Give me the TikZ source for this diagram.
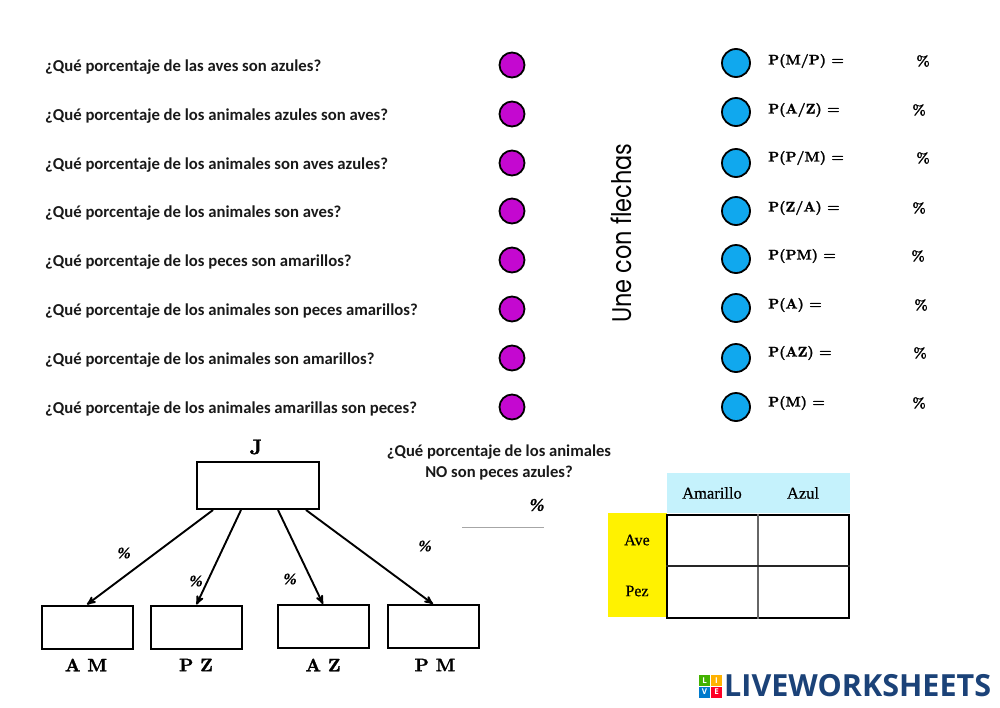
\documentclass[tikz,border=0pt]{standalone}
\usepackage{fontspec}
\setmainfont{Carlito}
\newfontfamily\slabfont[Extension=.otf,FakeBold=1.6]{lmroman10-bold}
\newfontfamily\headfont[FakeBold=0.5]{Liberation Serif}
\newfontfamily\handfont{Poppins}
\newfontfamily\logofont{Open Sans}
\usetikzlibrary{calc,arrows,positioning}
\definecolor{dotmag}{HTML}{C408D0}
\definecolor{dotblue}{HTML}{10A8EE}
\definecolor{headblue}{HTML}{C5F2FC}
\definecolor{logoblue}{HTML}{1B4278}
\tikzset{
  question/.style = {anchor=west, inner sep=0pt, yshift=-2.5pt, font=\fontsize{16.7}{20}\selectfont\bfseries, text=black!90},
  magdot/.style = {circle, draw=black, fill=dotmag, line width=1.8pt, minimum size=25pt, inner sep=0pt},
  bluedot/.style = {circle, draw=black, fill=dotblue, line width=1.8pt, minimum size=28pt, inner sep=0pt},
  formula/.style = {anchor=west, inner sep=0pt, font=\slabfont\fontsize{14}{16}\selectfont},
  pct/.style = {inner sep=0pt, font=\slabfont\fontsize{14}{16}\selectfont},
  treebox/.style = {draw, rectangle, line width=2pt, minimum width=91pt, minimum height=43pt, inner sep=0pt},
  treelabel/.style = {inner sep=0pt, font=\slabfont\fontsize{18}{20}\selectfont},
  treelink/.style = {-stealth', line width=1.9pt},
  slant/.style = {inner sep=0pt, font=\headfont\fontsize{16}{18}\selectfont\bfseries\itshape},
  head/.style = {inner sep=0pt, font=\headfont\fontsize{16.5}{18}\selectfont},
  side/.style = {inner sep=0pt, font=\headfont\fontsize{16}{18}\selectfont},
  livebox/.style = {minimum size=11pt, inner sep=0pt, text=white, font=\logofont\fontsize{8}{8}\selectfont\bfseries}
}
\begin{document}
\begin{tikzpicture}[x=1pt,y=-1pt]
  \useasboundingbox (0,0) rectangle (1000,707);

  % questions and dots
  \foreach \name/\ypos/\txt in {
    1/65/{¿Qué porcentaje de las aves son azules?},
    2/114/{¿Qué porcentaje de los animales azules son aves?},
    3/163/{¿Qué porcentaje de los animales son aves azules?},
    4/211/{¿Qué porcentaje de los animales son aves?},
    5/260/{¿Qué porcentaje de los peces son amarillos?},
    6/309/{¿Qué porcentaje de los animales son peces amarillos?},
    7/358/{¿Qué porcentaje de los animales son amarillos?},
    8/407/{¿Qué porcentaje de los animales amarillas son peces?}} {
    \node[question] (q\name) at (45,\ypos) {\txt};
    \node[magdot] (m\name) at (512,\ypos) {};
  }

  \node[inner sep=0pt, rotate=90, xscale=0.83, font=\handfont\fontsize{27}{30}\selectfont] (une) at (621,233) {Une con flechas};

  % formulas
  \foreach \name/\ydot/\ytxt/\txt/\pctx in {
    1/63/61/{P(M/P) =}/923,
    2/112/110/{P(A/Z) =}/919,
    3/163/158/{P(P/M) =}/923,
    4/211/208/{P(Z/A) =}/919,
    5/259/256/{P(PM) =}/918,
    6/308/305/{P(A) =}/921,
    7/358/353/{P(AZ) =}/920,
    8/407/403/{P(M) =}/919} {
    \node[bluedot] (b\name) at (736,\ydot) {};
    \node[formula] (f\name) at (768,\ytxt) {\txt};
    \node[pct] (p\name) at (\pctx,\ytxt) {\%};
  }

  % tree
  \node[treebox, minimum width=122pt, minimum height=47pt] (J) at (258,485.5) {};
  \node[treelabel, font=\slabfont\fontsize{21}{22}\selectfont] (Jlab) at (256,447) {J};
  \node[treebox] (AM) at (87,627) {};
  \node[treebox] (PZ) at (196.5,627) {};
  \node[treebox] (AZ) at (323,626.5) {};
  \node[treebox] (PM) at (433,626.5) {};
  \node[treelabel] (AMlab) at (86,665) {A M};
  \node[treelabel] (PZlab) at (196,665) {P Z};
  \node[treelabel] (AZlab) at (323,665) {A Z};
  \node[treelabel] (PMlab) at (435,665) {P M};
  \coordinate (j1) at ($(J.south west)+(17,0)$);
  \coordinate (j2) at ($(J.south west)+(45,0)$);
  \coordinate (j3) at ($(J.south west)+(82,0)$);
  \coordinate (j4) at ($(J.south west)+(110,0)$);
  \draw[treelink] (j1) -- (AM.north);
  \draw[treelink] (j2) -- (PZ.north);
  \draw[treelink] (j3) -- (AZ.north);
  \draw[treelink] (j4) -- (PM.north);
  \node[slant] (s1) at (124,553) {\%};
  \node[slant] (s2) at (196,581) {\%};
  \node[slant] (s3) at (290,579) {\%};
  \node[slant] (s4) at (425,546) {\%};

  % question on the right of the tree
  \node[align=center, inner sep=0pt, font=\fontsize{16.6}{21}\selectfont\bfseries, text=black!90] (q9) at (499,462) {¿Qué porcentaje de los animales\\NO son peces azules?};
  \node[slant, font=\headfont\fontsize{18}{18}\selectfont\bfseries\itshape] (s5) at (537,505) {\%};
  \coordinate (u1) at (462,527);
  \coordinate (u2) at (544,527);
  \draw[black!35] (u1) -- (u2);

  % table
  \node[fill=headblue, minimum width=183pt, minimum height=40pt, inner sep=0pt] (top) at (758,493) {};
  \node[fill=yellow, minimum width=59pt, minimum height=104pt, inner sep=0pt] (sidebar) at (637,565) {};
  \node[draw, line width=2pt, minimum width=182pt, minimum height=103pt, inner sep=0pt] (tab) at (758,566) {};
  \draw[black!60, line width=1.3pt] (tab.north) -- (tab.south);
  \draw[black!85, line width=1.3pt] (tab.west) -- (tab.east);
  \node[head] (h1) at (712,493) {Amarillo};
  \node[head] (h2) at (803,493) {Azul};
  \node[side] (h3) at (637,540) {Ave};
  \node[side] (h4) at (637,591) {Pez};

  % logo
  \node[inner sep=0pt, anchor=west, font=\logofont\fontsize{30.5}{32}\selectfont\bfseries, text=logoblue] (logo) at (724,686) {LIVEWORKSHEETS};
  \node[livebox, fill=green!50!lime!70!black] (l1) at (704.5,680.5) {L};
  \node[livebox, fill=orange!60!yellow] (l2) at (716.5,680.5) {I};
  \node[livebox, fill=blue!40!cyan!80!black] (l3) at (704.5,692) {V};
  \node[livebox, fill=red!85!magenta] (l4) at (716.5,692) {E};
\end{tikzpicture}
\end{document}
